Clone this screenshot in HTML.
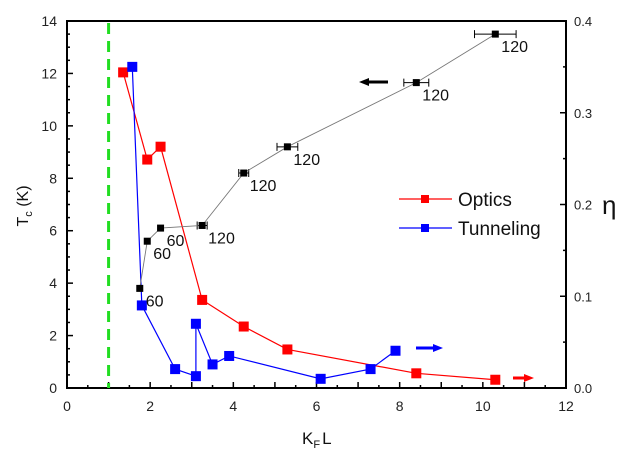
<!DOCTYPE html>
<html><head><meta charset="utf-8"><style>
html,body{margin:0;padding:0;background:#fff;}
svg{display:block;font-family:"Liberation Sans",Arial,sans-serif;}
</style></head><body>
<svg id="chart" width="644" height="464" viewBox="0 0 644 464">
<g id="plot"></g>
</svg>
<script>
const tcX=[1.75,1.93,2.25,3.25,4.25,5.3,8.4,10.3];
const tcY=[3.8,5.6,6.1,6.2,8.2,9.2,11.65,13.5];
const tcErr=[0,0,0,0.12,0.12,0.25,0.3,0.5];
const tcLbl=["60","60","60","120","120","120","120","120"];
const optX=[1.35,1.93,2.25,3.25,4.25,5.3,8.4,10.3];
const optEta=[0.344,0.249,0.263,0.096,0.067,0.042,0.016,0.009];
const tunX=[1.57,1.8,2.6,3.1,3.1,3.5,3.9,6.1,7.3,7.9];
const tunEta=[0.35,0.09,0.0206,0.0129,0.07,0.0257,0.0349,0.010,0.0206,0.0406];
const xTicks=[0,2,4,6,8,10,12];
const yTicks=[0,2,4,6,8,10,12,14];
const etaTicks=["0.0","0.1","0.2","0.3","0.4"];

const L=67,R=566,T=21,B=388;
const sx=v=>L+(R-L)*v/12;
const sy=v=>B-(B-T)*v/14;
const se=v=>B-(B-T)*v/0.4;
const NS="http://www.w3.org/2000/svg";
const g=document.getElementById('plot');
function el(t,a,txt){const e=document.createElementNS(NS,t);for(const k in a)e.setAttribute(k,a[k]);if(txt!==undefined)e.textContent=txt;g.appendChild(e);return e;}

let f=el('rect',{x:L,y:T,width:R-L,height:B-T,fill:'none',stroke:'#000','stroke-width':2});


for(let i=0;i<=24;i++){const v=i/2;const major=i%2==0;
 let t=el('line',{x1:sx(v),x2:sx(v),y1:B,y2:B-(major?6:3),stroke:'#000','stroke-width':1.5});
 
 }
xTicks.forEach(v=>{let t=el('text',{x:sx(v),y:B+23,'font-size':14,'text-anchor':'middle',fill:'#222'},String(v));
 
 });
for(let i=0;i<=28;i++){const v=i/2;const major=i%4==0;
 let t=el('line',{x1:L,x2:L+(major?6:3),y1:sy(v),y2:sy(v),stroke:'#000','stroke-width':1.5});
 
 }
yTicks.forEach(v=>{let t=el('text',{x:L-10,y:sy(v)+5,'font-size':14,'text-anchor':'end',fill:'#222'},String(v));
 
 });
for(let i=0;i<=8;i++){const v=i*0.05;const major=i%2==0;
 let t=el('line',{x1:R,x2:R-(major?6:3),y1:se(v),y2:se(v),stroke:'#000','stroke-width':1.5});
 
 }
etaTicks.forEach(s=>{let t=el('text',{x:R+8,y:se(parseFloat(s))+5,'font-size':13,fill:'#222'},s);
 
 });

let gd=el('line',{x1:sx(1),x2:sx(1),y1:T+2,y2:B,stroke:'#22dd22','stroke-width':3,'stroke-dasharray':'11,7'});



function series(xs,ys,yf,color,lineColor,w,size,name){
 let p=el('polyline',{points:xs.map((x,i)=>sx(x)+','+yf(ys[i])).join(' '),fill:'none',stroke:lineColor,'stroke-width':w});
 
 
 xs.forEach((x,i)=>{let r=el('rect',{x:sx(x)-size/2,y:yf(ys[i])-size/2,width:size,height:size,fill:color});
  
  });
}
series(optX,optEta,se,'#ff0000','#ff0000',1.2,10,'optics');
series(tunX,tunEta,se,'#0000ff','#0000ff',1.2,10,'tunneling');
tcX.forEach((x,i)=>{if(tcErr[i]>0){const y=sy(tcY[i]),a=sx(x-tcErr[i]),b=sx(x+tcErr[i]);
 let e=el('path',{d:`M${a},${y}H${b}M${a},${y-4}V${y+4}M${b},${y-4}V${y+4}`,stroke:'#000','stroke-width':1,fill:'none'});
 
 }});
series(tcX,tcY,sy,'#000','#777',0.9,7,'tc');
tcX.forEach((x,i)=>{let t=el('text',{x:sx(x)+6,y:sy(tcY[i])+18,'font-size':16,fill:'#111'},tcLbl[i]);
 
 });

function arrow(x1,x2,y,color,name){
 const dir=x2>x1?1:-1;
 let l=el('line',{x1:x1,x2:x2-dir*8,y1:y,y2:y,stroke:color,'stroke-width':3});
 
 
 let h=el('polygon',{points:`${x2},${y} ${x2-dir*10},${y-4} ${x2-dir*10},${y+4}`,fill:color});
 
 
}
arrow(388,359,82,'#000','tc-axis-arrow');
arrow(416,443,348,'#0000ff','tunneling-axis-arrow');
arrow(513,534,378,'#ff0000','optics-axis-arrow');

[['Optics','#ff0000',199],['Tunneling','#0000ff',228]].forEach(([n,c,y])=>{
 let l=el('line',{x1:399,x2:452,y1:y,y2:y,stroke:c,'stroke-width':1.2});
 
 
 let r=el('rect',{x:421,y:y-4,width:8,height:8,fill:c});
 
 
 let t=el('text',{x:458,y:y+7,'font-size':19,fill:'#111'},n);
 
 
});

let yt=el('text',{x:0,y:0,'font-size':16,fill:'#111',transform:'translate(28,206) rotate(-90)','text-anchor':'middle'});


yt.innerHTML='T<tspan font-size="11" dy="4">c</tspan><tspan dy="-4"> (K)</tspan>';
let et=el('text',{x:602,y:214,'font-size':26,fill:'#111'},'η');


let xt=el('text',{x:302,y:444,'font-size':17,fill:'#111'});


xt.innerHTML='K<tspan font-size="11" dy="4">F</tspan><tspan dy="-4" dx="2">L</tspan>';
</script>
</body></html>
